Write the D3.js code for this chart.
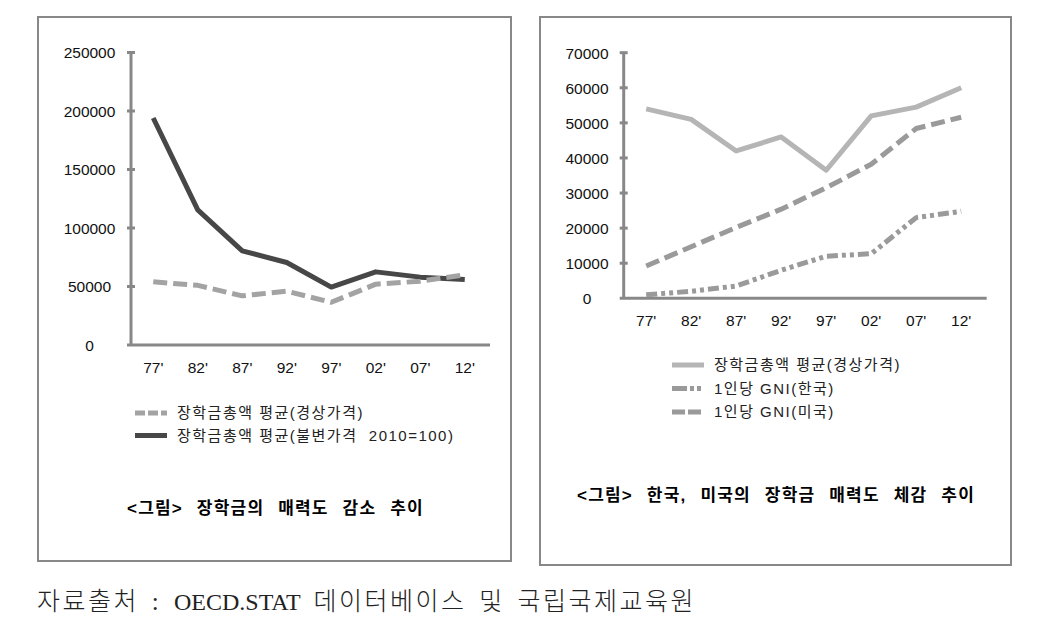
<!DOCTYPE html>
<html><head><meta charset="utf-8">
<script src="https://cdn.jsdelivr.net/npm/d3@7"></script>
<style>
html,body{margin:0;padding:0;background:#fff;}
svg{display:block;}
text{font-family:"Liberation Sans",Arial,"Noto Sans CJK KR",sans-serif;fill:#111;}
.kr{font-family:"Liberation Sans","Noto Sans CJK KR",sans-serif;}
</style></head>
<body>
<svg id="c" width="1042" height="628"></svg>
<script>
// ---- data ----
const years = ["77'", "82'", "87'", "92'", "97'", "02'", "07'", "12'"];
const leftTicks = [0, 50000, 100000, 150000, 200000, 250000];
const rightTicks = [0, 10000, 20000, 30000, 40000, 50000, 60000, 70000];
const scholarshipCurrent = [54000, 51000, 42000, 46000, 36500, 52000, 54500, 60000];
const scholarshipConstant = [194000, 115500, 80500, 70500, 49500, 62500, 58000, 56000];
const gniKorea = [1000, 2000, 3500, 8000, 12000, 12700, 23000, 24800];
const gniUS = [9200, 14700, 20200, 25400, 31500, 38200, 48400, 51600];
const leftLegend = ["장학금총액 평균(경상가격)", "장학금총액 평균(불변가격  2010=100)"];
const rightLegend = ["장학금총액 평균(경상가격)", "1인당 GNI(한국)", "1인당 GNI(미국)"];
const leftTitle = "<그림> 장학금의 매력도 감소 추이";
const rightTitle = "<그림> 한국, 미국의 장학금 매력도 체감 추이";
const source = "자료출처 : OECD.STAT 데이터베이스 및 국립국제교육원";

const svg = d3.select("#c");
const AX = "#888";

function panel(o){
  svg.append("rect").attr("x",o.box[0]).attr("y",o.box[1]).attr("width",o.box[2]).attr("height",o.box[3])
    .attr("fill","none").attr("stroke",AX).attr("stroke-width",2);
  const x = d3.scaleBand().domain(years).range([o.x0,o.x1]);
  const y = d3.scaleLinear().domain([0,o.ymax]).range([o.y0,o.y1]);
  const g = svg.append("g");
  // y axis
  const ya = d3.axisLeft(y).tickValues(o.ticks).tickSize(0).tickFormat(d3.format("d"));
  const yg = g.append("g").attr("transform",`translate(${o.x0},0)`).call(ya);
  yg.select(".domain").remove();
  yg.selectAll("text").attr("text-anchor","middle").attr("x",-o.lblOff).attr("dy","0.35em")
    .style("font-size","15.5px").style("fill","#111");
  g.append("line").attr("x1",o.x0).attr("x2",o.x0).attr("y1",y(0)).attr("y2",y(o.ymax))
    .attr("stroke",AX).attr("stroke-width",3);
  g.selectAll(".tk").data(o.ticks.filter(d=>d>0)).join("line")
    .attr("x1",o.x0-4).attr("x2",o.x0+4).attr("y1",d=>y(d)).attr("y2",d=>y(d))
    .attr("stroke",AX).attr("stroke-width",3);
  // x axis
  const xa = d3.axisBottom(x).tickSize(0).tickPadding(o.xPad);
  const xg = g.append("g").attr("transform",`translate(0,${o.y0})`).call(xa);
  xg.select(".domain").remove();
  xg.selectAll("text").style("font-size","15.5px").style("fill","#111");
  g.append("line").attr("x1",o.x0-4).attr("x2",o.x1+3).attr("y1",y(0)).attr("y2",y(0))
    .attr("stroke",AX).attr("stroke-width",3);
  // lines
  const line = d3.line().x((d,i)=>x(years[i])+x.bandwidth()/2).y(d=>y(d));
  o.series.forEach(s=>{
    g.append("path").datum(s.values).attr("d",line).attr("fill","none")
      .attr("stroke",s.color).attr("stroke-width",5).attr("stroke-dasharray",s.dash||null)
      .attr("stroke-linejoin","round");
  });
  // legend
  o.series.slice().sort((a,b)=>a.lorder-b.lorder).forEach((s,i)=>{
    const ly = o.leg[1] + i*o.leg[2];
    g.append("line").attr("x1",o.leg[0]).attr("x2",o.leg[0]+32).attr("y1",ly).attr("y2",ly)
      .attr("stroke",s.color).attr("stroke-width",5).attr("stroke-dasharray",s.ldash||null);
    g.append("text").attr("class","kr").attr("x",o.leg[0]+42).attr("y",ly).attr("dy","0.35em")
      .attr("xml:space","preserve")
      .style("font-size","15px").style("letter-spacing","1.5px").style("fill","#222").text(s.name);
  });
  // title
  svg.append("text").attr("class","kr").attr("x",o.title[0]).attr("y",o.title[1]).attr("dy","0.35em")
    .style("font-size","17px").style("font-weight","bold").style("letter-spacing","1.2px")
    .style("word-spacing","8px").style("fill","#000").text(o.titleText);
}

panel({
  box:[38,17,473,544], x0:131, x1:487, y0:345, y1:52.5, ymax:250000, ticks:leftTicks,
  lblOff:41.5, xPad:17,
  series:[
    {name:leftLegend[1], values:scholarshipConstant, color:"#474747", lorder:1},
    {name:leftLegend[0], values:scholarshipCurrent, color:"#a3a3a3", dash:"14,6", ldash:"10,3", lorder:0}
  ],
  leg:[135,413,22.5], title:[127,508], titleText:leftTitle
});

panel({
  box:[540,17,471,548], x0:623.7, x1:983.7, y0:298.3, y1:52.7, ymax:70000, ticks:rightTicks,
  lblOff:36.7, xPad:17,
  series:[
    {name:rightLegend[0], values:scholarshipCurrent, color:"#b5b5b5", lorder:0},
    {name:rightLegend[2], values:gniUS, color:"#9a9a9a", dash:"14,6", ldash:"13,3", lorder:2},
    {name:rightLegend[1], values:gniKorea, color:"#9a9a9a", dash:"11,4,4,4,4,4", ldash:"15,3,4,3,4,3", lorder:1}
  ],
  leg:[672,365,23.5], title:[577,495], titleText:rightTitle
});

// footer: Latin run in serif, Hangul runs slightly larger with tracking
const foot = svg.append("text").attr("x",37).attr("y",604).attr("dy","0.35em")
  .style("font-family",'"Liberation Serif","Noto Sans CJK KR",serif').style("fill","#222");
source.split(/([A-Za-z.]+)/).filter(s=>s.length).forEach(part=>{
  const latin = /^[A-Za-z.]+$/.test(part);
  foot.append("tspan")
    .style("font-size", latin ? "24px" : "25px")
    .style("font-weight", latin ? "normal" : "300")
    .style("letter-spacing", latin ? "0px" : "2.5px")
    .style("word-spacing", latin ? "0px" : "4px")
    .text(part);
});
</script>
</body></html>
